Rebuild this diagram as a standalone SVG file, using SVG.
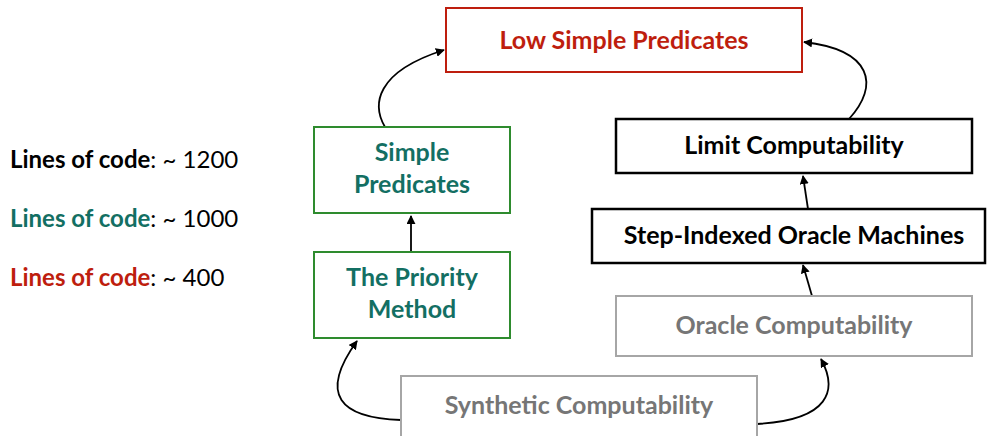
<svg xmlns="http://www.w3.org/2000/svg" width="987" height="436" viewBox="0 0 987 436">
<style>
  text { font-family: Lato, "Open Sans", "Liberation Sans", sans-serif; font-weight: bold; font-size: 25px; text-anchor: middle; }
  .red { fill: #BE1E0E; }
  .teal { fill: #136F63; }
  .blk { fill: #000; }
  .gry { fill: #767676; }
  .bred { fill: #fff; stroke: #BE1E0E; stroke-width: 2; }
  .bgrn { fill: #fff; stroke: #2E8B2E; stroke-width: 2; }
  .bblk { fill: #fff; stroke: #000; stroke-width: 2.5; }
  .bgry { fill: #fff; stroke: #A6A6A6; stroke-width: 2; }
  .edge { fill: none; stroke: #000; stroke-width: 1.8; marker-end: url(#ah); }
  .loc { text-anchor: start; font-size: 24px; }
  .num { font-weight: normal; fill: #000; }
</style>
<defs>
  <marker id="ah" viewBox="0 0 10 10" refX="9" refY="5" markerWidth="5" markerHeight="5" orient="auto">
    <path d="M0,0 L10,5 L0,10 z" fill="#000"/>
  </marker>
</defs>
<rect width="987" height="436" fill="#fff"/>
<g id="legend">
  <text class="loc blk" x="10" y="168">Lines of code<tspan class="num">: ~ 1200</tspan></text>
  <text class="loc teal" x="10" y="227">Lines of code<tspan class="num">: ~ 1000</tspan></text>
  <text class="loc red" x="10" y="286">Lines of code<tspan class="num">: ~ 400</tspan></text>
</g>
<g id="connectors">
  <path class="edge" d="M385,127 C372,105 375,72 444,50"/>
  <path class="edge" d="M849,119 C880,85 872,50 804,42"/>
  <line class="edge" x1="808" y1="209" x2="803" y2="176"/>
  <line class="edge" x1="812" y1="296" x2="803" y2="265"/>
  <line class="edge" x1="411" y1="252" x2="411" y2="216"/>
  <path class="edge" d="M401,420 C340,418 318,395 357,341"/>
  <path class="edge" d="M757,424 C830,420 838,390 821,359"/>
</g>
<g id="low-simple-predicates">
  <rect class="bred" x="446" y="8" width="356" height="64"/>
  <text class="red" x="624" y="49">Low Simple Predicates</text>
</g>
<g id="simple-predicates">
  <rect class="bgrn" x="314" y="127" width="196" height="86"/>
  <text class="teal" x="412" y="161">Simple</text>
  <text class="teal" x="412" y="193">Predicates</text>
</g>
<g id="priority-method">
  <rect class="bgrn" x="314" y="252" width="196" height="86"/>
  <text class="teal" x="412" y="286">The Priority</text>
  <text class="teal" x="412" y="318">Method</text>
</g>
<g id="limit-computability">
  <rect class="bblk" x="616" y="119" width="356" height="54"/>
  <text class="blk" x="794" y="154">Limit Computability</text>
</g>
<g id="step-indexed">
  <rect class="bblk" x="592" y="209" width="393" height="54"/>
  <text class="blk" x="794" y="244">Step-Indexed Oracle Machines</text>
</g>
<g id="oracle-computability">
  <rect class="bgry" x="616" y="296" width="356" height="60"/>
  <text class="gry" x="794" y="334">Oracle Computability</text>
</g>
<g id="synthetic-computability">
  <rect class="bgry" x="401" y="376" width="356" height="62"/>
  <text class="gry" x="579" y="414">Synthetic Computability</text>
</g>
</svg>
